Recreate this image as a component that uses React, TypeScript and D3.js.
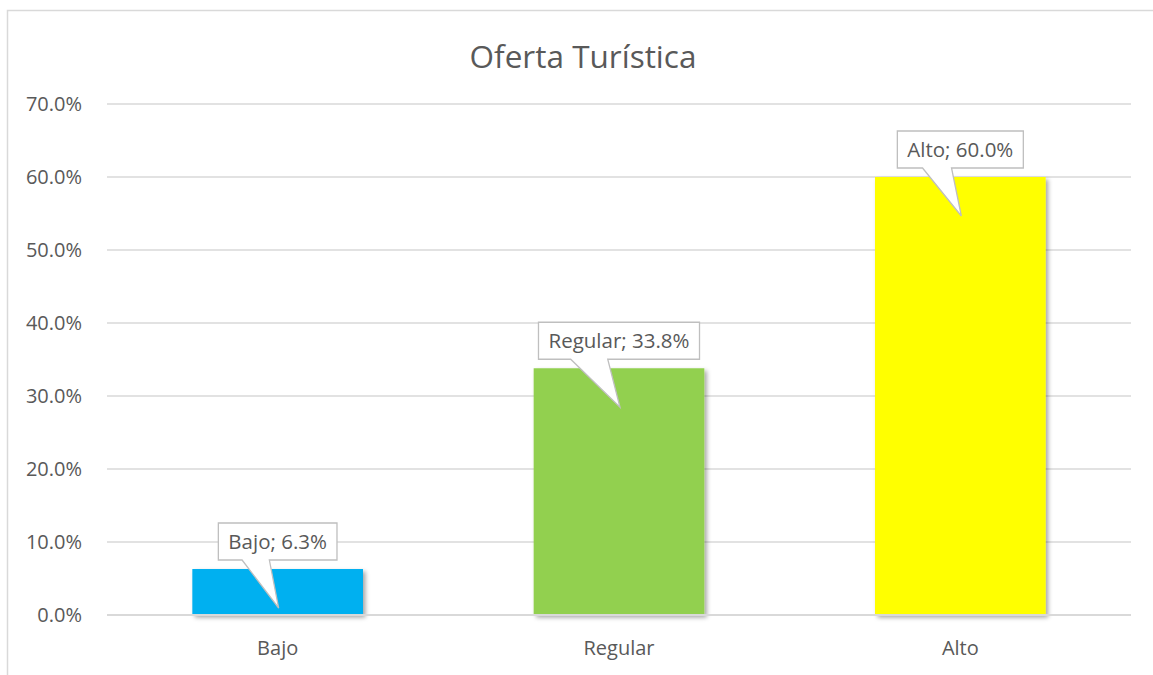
import React, { useEffect, useRef } from "react";
import * as d3 from "d3";

const categories = ["Bajo", "Regular", "Alto"];
const values = [0.063, 0.338, 0.6];
const colors = ["#00B0F0", "#92D050", "#FFFF00"];
const yTicks = [0, 0.1, 0.2, 0.3, 0.4, 0.5, 0.6, 0.7];
const title = "Oferta Turística";

const W = 1153;
const H = 675;
const FONT = "'Open Sans', 'Liberation Sans', sans-serif";

export default function App() {
  const ref = useRef<SVGSVGElement>(null);

  useEffect(() => {
    const svg = d3.select(ref.current);
    svg.selectAll("*").remove();

    const left = 107, right = 1131, top = 104, bottom = 615;
    const x = d3.scaleBand().domain(categories).range([left, right]).paddingInner(0.5).paddingOuter(0.25);
    const y = d3.scaleLinear().domain([0, 0.7]).range([bottom, top]);
    const fmt = d3.format(".1%");

    const defs = svg.append("defs");
    const f = defs.append("filter").attr("id", "sh").attr("x", "-10%").attr("y", "-10%").attr("width", "130%").attr("height", "130%");
    f.append("feDropShadow").attr("dx", 2.5).attr("dy", 2.5).attr("stdDeviation", 2.2).attr("flood-color", "#000").attr("flood-opacity", 0.35);

    svg.append("rect").attr("x", 0).attr("y", 0).attr("width", W).attr("height", H).attr("fill", "#fff");
    svg.append("rect").attr("x", 7.5).attr("y", 10.5).attr("width", 1160).attr("height", 700)
      .attr("fill", "none").attr("stroke", "#D9D9D9").attr("stroke-width", 1.5);

    svg.append("text").attr("x", 583).attr("y", 68).attr("text-anchor", "middle")
      .attr("font-family", FONT).attr("font-size", 31.5).attr("fill", "#595959").text(title);

    // gridlines
    svg.append("g").selectAll("line").data(yTicks.filter(t => t > 0)).join("line")
      .attr("x1", left).attr("x2", right).attr("y1", d => y(d)).attr("y2", d => y(d))
      .attr("stroke", "#D9D9D9").attr("stroke-width", 1.3);

    svg.append("g").selectAll("text").data(yTicks).join("text")
      .attr("x", 82).attr("y", d => y(d)).attr("dy", "0.35em").attr("text-anchor", "end")
      .attr("font-family", FONT).attr("font-size", 20).attr("fill", "#595959").text(d => fmt(d));

    // bars
    svg.append("g").selectAll("rect").data(values).join("rect")
      .attr("x", (d, i) => x(categories[i])!).attr("width", x.bandwidth())
      .attr("y", d => y(d)).attr("height", d => bottom - y(d))
      .attr("fill", (d, i) => colors[i]).attr("filter", "url(#sh)");

    // axis line
    svg.append("line").attr("x1", left).attr("x2", right).attr("y1", bottom).attr("y2", bottom)
      .attr("stroke", "#D9D9D9").attr("stroke-width", 2);

    svg.append("g").selectAll("text").data(categories).join("text")
      .attr("x", d => x(d)! + x.bandwidth() / 2).attr("y", 655).attr("text-anchor", "middle")
      .attr("font-family", FONT).attr("font-size", 20).attr("fill", "#595959").text(d => d);

    // callouts
    values.forEach((v, i) => {
      const cx = x(categories[i])! + x.bandwidth() / 2;
      const barTop = y(v);
      const g = svg.append("g");
      const label = `${categories[i]}; ${fmt(v)}`;
      const t = g.append("text").attr("font-family", FONT).attr("font-size", 20.5).attr("fill", "#595959")
        .attr("text-anchor", "middle").text(label);
      const tw = (t.node() as SVGTextElement).getComputedTextLength();
      const w = tw + 20;
      const h = 37;
      const bx = cx - w / 2;
      const bb = barTop - 9;
      const by = bb - h;
      const tipX = cx + 1, tipY = barTop + 39;
      const b1 = cx - 0.3 * w, b2 = cx - 0.07 * w;
      const path = `M${bx},${by} H${bx + w} V${bb} H${b2} L${tipX},${tipY} L${b1},${bb} H${bx} Z`;
      g.insert("path", "text").attr("d", path).attr("fill", "#fff").attr("stroke", "#BFBFBF").attr("stroke-width", 1.3);
      t.attr("x", cx).attr("y", by + h / 2).attr("dy", "0.35em");
    });
  }, []);

  return (
    <svg ref={ref} width={W} height={H} style={{ position: "absolute", left: 0, top: 0 }} />
  );
}
